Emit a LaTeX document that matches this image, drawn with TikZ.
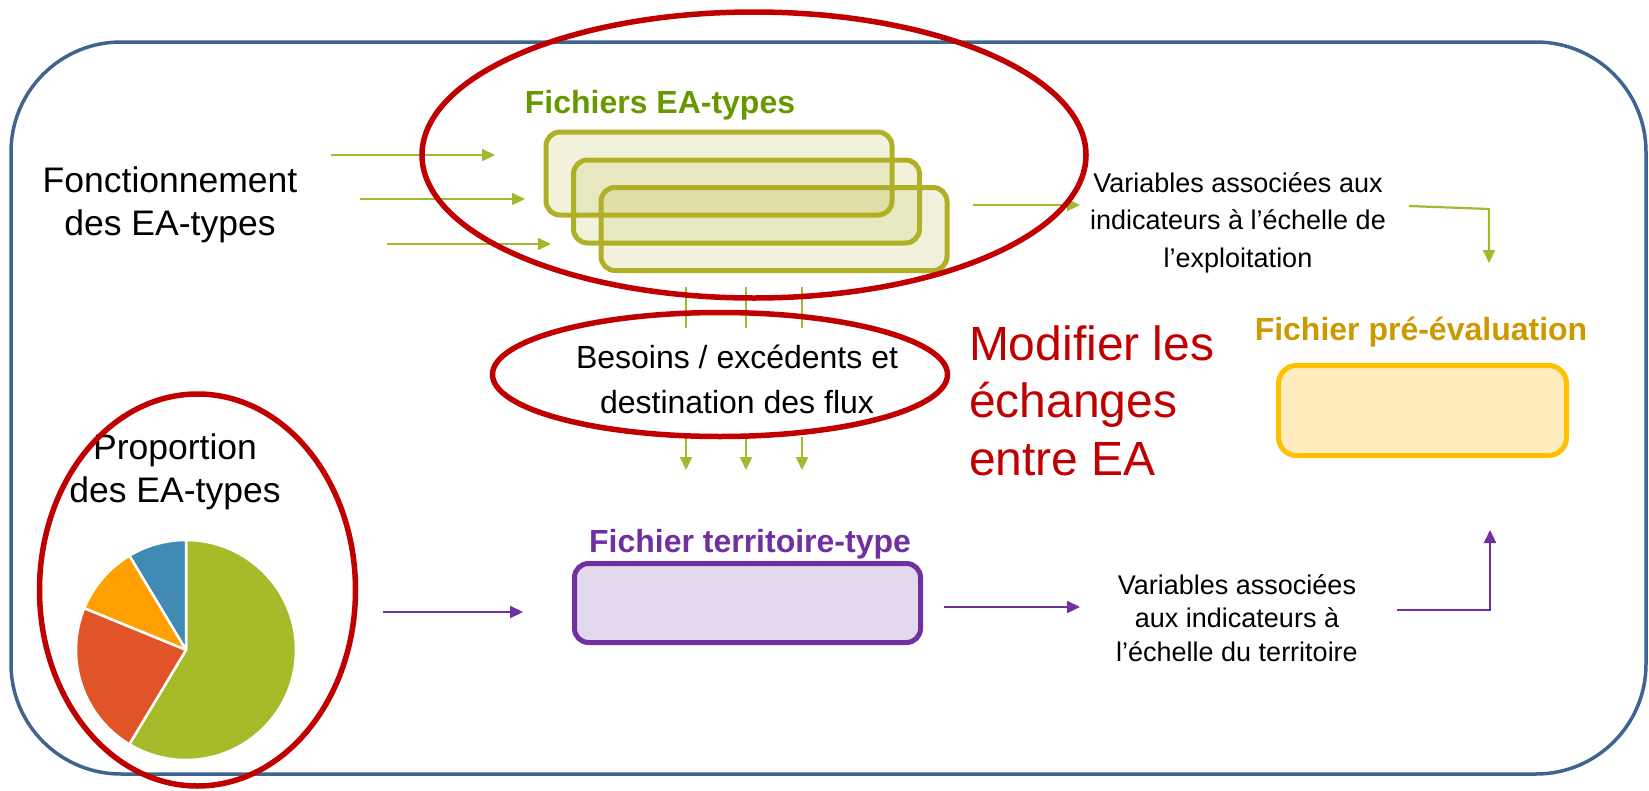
\documentclass[tikz,border=0pt]{standalone}
\usepackage{fontspec}
\setmainfont{Liberation Sans}
\usetikzlibrary{arrows.meta,shapes.geometric}
\definecolor{frameblue}{RGB}{64,100,145}
\definecolor{ringred}{RGB}{192,0,0}
\definecolor{arrgreen}{RGB}{158,187,46}
\definecolor{titlegreen}{RGB}{102,153,0}
\definecolor{eaolive}{RGB}{176,176,40}
\definecolor{titlegold}{RGB}{204,153,0}
\definecolor{goldline}{RGB}{255,192,0}
\definecolor{goldfill}{RGB}{255,237,192}
\definecolor{purp}{RGB}{112,48,160}
\definecolor{purpfill}{RGB}{228,216,236}
\definecolor{piegreen}{RGB}{167,186,42}
\definecolor{piered}{RGB}{224,84,40}
\definecolor{pieorange}{RGB}{255,160,0}
\definecolor{pieblue}{RGB}{65,138,180}
\begin{document}
\begin{tikzpicture}[x=1pt,y=-1pt,
  every node/.style={inner sep=0pt, outer sep=0pt},
  frame/.style={draw=frameblue, line width=3.5pt, rounded corners=110pt},
  hring/.style={draw=ringred, line width=5.5pt, ellipse},
  olivebox/.style={draw=eaolive, line width=5pt, fill=eaolive, fill opacity=0.16, draw opacity=1, rounded corners=14pt, minimum width=346pt, minimum height=83pt},
  goldbox/.style={draw=goldline, line width=5pt, fill=goldfill, rounded corners=18pt, minimum width=288pt, minimum height=90pt},
  purpbox/.style={draw=purp, line width=5pt, fill=purpfill, rounded corners=14pt, minimum width=346pt, minimum height=79pt},
  bigtxt/.style={align=center, font=\fontsize{35.5}{43}\selectfont},
  vartxt/.style={align=center, font=\fontsize{27}{37.5}\selectfont},
  ftitle/.style={font=\fontsize{32}{38}\selectfont\bfseries},
  garrow/.style={draw=arrgreen, line width=2.2pt, -{Triangle[length=13pt,width=12pt]}},
  gline/.style={draw=arrgreen, line width=2.2pt},
  parrow/.style={draw=purp, line width=2.2pt, -{Triangle[length=13pt,width=12pt]}},
  slice/.style={draw=white, line width=2.5pt, line join=round}
]
\useasboundingbox (0,0) rectangle (1649,790);

% outer frame
\draw[frame] (11,42) rectangle (1646,774);

% left texts
\node[bigtxt, anchor=north] (fonct) at (170,166.6) {Fonctionnement\\des EA-types};
\node[bigtxt, anchor=north] (prop) at (175,433.6) {Proportion\\des EA-types};

% EA-type files
\node[ftitle, text=titlegreen, anchor=base] (eatitle) at (660,113) {Fichiers EA-types};
\node[olivebox] (box1) at (719,173.5) {};
\node[olivebox] (box2) at (746.5,201.5) {};
\node[olivebox] (box3) at (774,229) {};

% input arrows
\coordinate (in1s) at (331,155); \coordinate (in1e) at (495,155);
\coordinate (in2s) at (360,199); \coordinate (in2e) at (525,199);
\coordinate (in3s) at (387,244); \coordinate (in3e) at (551,244);
\draw[garrow] (in1s) -- (in1e);
\draw[garrow] (in2s) -- (in2e);
\draw[garrow] (in3s) -- (in3e);

% exploitation variables
\node[vartxt, anchor=north] (varex) at (1238,172.6) {Variables associées aux\\indicateurs à l’échelle de\\l’exploitation};
\coordinate (outs) at (973,205); \coordinate (oute) at (1080,205);
\draw[garrow] (outs) -- (oute);
\coordinate (bs) at (1409,206); \coordinate (bc) at (1489,209); \coordinate (be) at (1489,263);
\draw[garrow] (bs) -- (bc) -- (be);

% flux
\node[align=center, font=\fontsize{32}{45}\selectfont, anchor=north] (besoins) at (737,345) {Besoins / excédents et\\destination des flux};
\coordinate (v1a) at (686,287); \coordinate (v1b) at (686,328);
\coordinate (v2a) at (746,287); \coordinate (v2b) at (746,328);
\coordinate (v3a) at (802,287); \coordinate (v3b) at (802,328);
\draw[gline] (v1a) -- (v1b);
\draw[gline] (v2a) -- (v2b);
\draw[gline] (v3a) -- (v3b);
\coordinate (w1a) at (686,437); \coordinate (w1b) at (686,470);
\coordinate (w2a) at (746,437); \coordinate (w2b) at (746,470);
\coordinate (w3a) at (802,437); \coordinate (w3b) at (802,470);
\draw[garrow] (w1a) -- (w1b);
\draw[garrow] (w2a) -- (w2b);
\draw[garrow] (w3a) -- (w3b);

% modifier
\node[align=left, anchor=north west, text=ringred, font=\fontsize{48}{57.5}\selectfont] (modif) at (969,325.6) {Modifier les\\échanges\\entre EA};

% pre-evaluation
\node[ftitle, text=titlegold, anchor=base] (pretitle) at (1421,340) {Fichier pré-évaluation};
\node[goldbox] (prebox) at (1422.5,410.5) {};

% territory
\node[ftitle, text=purp, anchor=base] (terrtitle) at (750,552) {Fichier territoire-type};
\node[purpbox] (terrbox) at (747.5,603) {};
\coordinate (ps) at (383,612); \coordinate (pe) at (523,612);
\draw[parrow] (ps) -- (pe);
\coordinate (qs) at (944,607); \coordinate (qe) at (1080,607);
\draw[parrow] (qs) -- (qe);
\node[align=center, font=\fontsize{27}{33.5}\selectfont, anchor=north] (varter) at (1237,574.5) {Variables associées\\aux indicateurs à\\l’échelle du territoire};
\coordinate (rs) at (1397,610); \coordinate (rc) at (1490,610); \coordinate (re) at (1490,530);
\draw[parrow] (rs) -- (rc) -- (re);

% pie chart
\coordinate (pc) at (186,650);
\filldraw[slice, fill=piegreen] (pc) -- ++(-90:110) arc[start angle=-90, end angle=121, radius=110] -- cycle;
\filldraw[slice, fill=pieblue] (pc) -- ++(-121:110) arc[start angle=-121, end angle=-90, radius=110] -- cycle;
\filldraw[slice, fill=pieorange] (pc) -- ++(-157.7:110) arc[start angle=-157.7, end angle=-121, radius=110] -- cycle;
\filldraw[slice, fill=piered] (pc) -- ++(-239:110) arc[start angle=-239, end angle=-157.7, radius=110] -- cycle;

% red highlight rings
\node[hring, minimum width=664pt, minimum height=286pt] (ring1) at (754,155) {};
\node[hring, minimum width=455pt, minimum height=124pt] (ring2) at (720,374.5) {};
\node[hring, minimum width=316pt, minimum height=392pt] (ring3) at (197.5,590) {};
\end{tikzpicture}
\end{document}
